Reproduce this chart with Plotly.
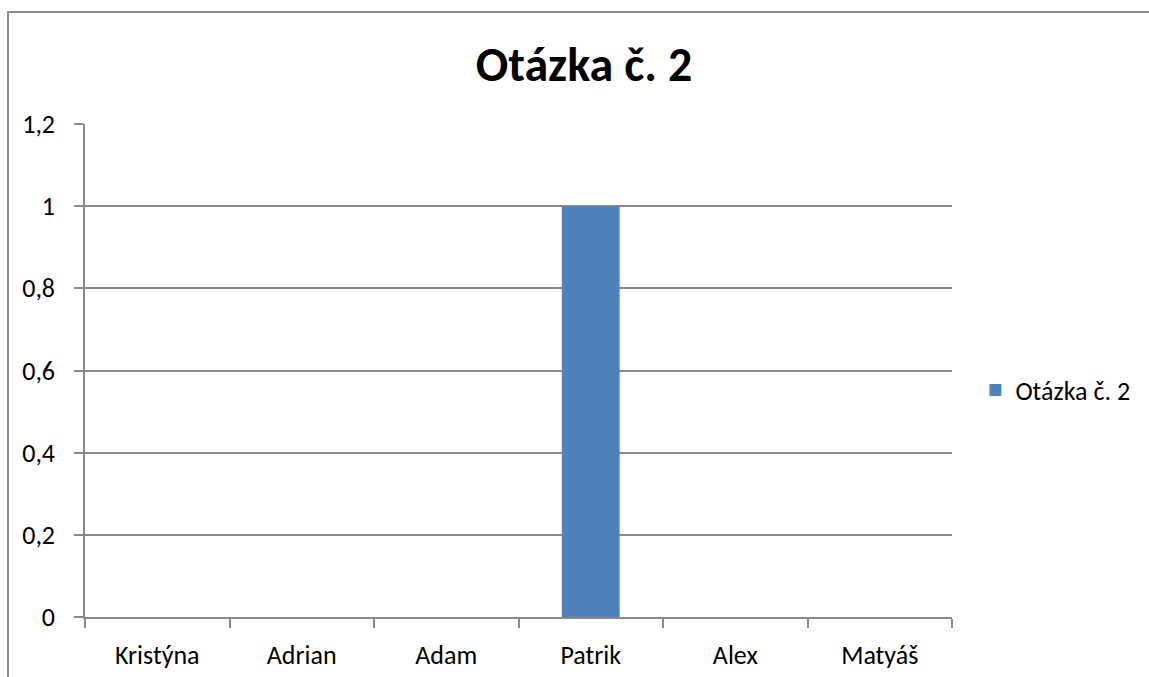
import plotly.graph_objects as go

categories = ["Kristýna", "Adrian", "Adam", "Patrik", "Alex", "Matyáš"]
values = [0, 0, 0, 1, 0, 0]
series_name = "Otázka č. 2"
title_text = "Otázka č. 2"
y_ticks = [0, 0.2, 0.4, 0.6, 0.8, 1.0, 1.2]

FONT = "Carlito, Calibri, Lato, sans-serif"
GRID = "#8a8a8a"

fx0 = (8 - 85) / 867
fx1 = (1200 - 85) / 867
fy0 = (617 - 700) / 493
fy1 = (617 - 12) / 493

fig = go.Figure()
fig.add_trace(go.Bar(
    x=categories, y=values, name=series_name,
    marker=dict(color="#4F81BD", line=dict(width=0)),
    width=0.4,
))

fig.update_layout(
    width=1149, height=677,
    paper_bgcolor="white", plot_bgcolor="white",
    margin=dict(l=85, r=197, t=124, b=60),
    separators=", ",
    font=dict(family=FONT, size=26, color="black"),
    title=dict(text="<b>" + title_text + "</b>", x=584 / 1149, xanchor="center",
               y=1 - 64 / 677, yanchor="middle", xref="container", yref="container",
               font=dict(family=FONT, size=48, color="black")),
    showlegend=True,
    legend=dict(x=1.027, y=0.46, xanchor="left", yanchor="middle",
                font=dict(family=FONT, size=26, color="black"),
                itemwidth=30),
    bargap=0.6,
    shapes=[dict(type="path", xref="paper", yref="paper",
                 path=f"M {fx0},{fy0} L {fx0},{fy1} L {fx1},{fy1}",
                 line=dict(color="#8c8c8c", width=2), layer="below")],
)

fig.update_xaxes(
    showline=True, linecolor=GRID, linewidth=1.5,
    ticks="outside", tickson="boundaries", ticklen=9, tickcolor=GRID, tickwidth=1.5,
    showgrid=False, tickfont=dict(size=26), ticklabelstandoff=14, automargin=False,
)
fig.update_yaxes(
    range=[0, 1.2], tickvals=y_ticks,
    showline=True, linecolor=GRID, linewidth=1.5,
    ticks="outside", ticklen=9, tickcolor=GRID, tickwidth=1.5,
    showgrid=True, gridcolor=GRID, gridwidth=1.5, zeroline=False,
    tickfont=dict(size=26), ticklabelstandoff=14, automargin=False,
)

fig.write_html("out.html", config={"displayModeBar": False})
